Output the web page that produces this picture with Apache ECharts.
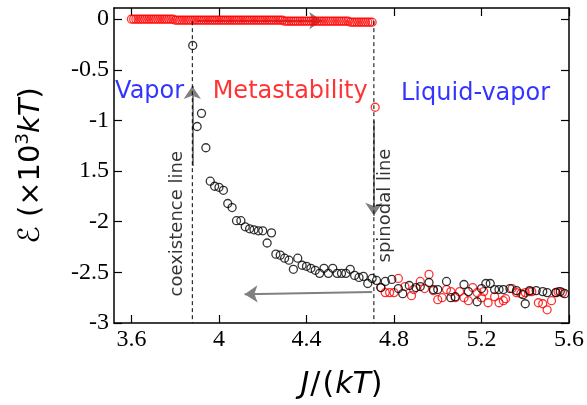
<!DOCTYPE html>
<html>
<head>
<meta charset="utf-8">
<script src="https://cdn.jsdelivr.net/npm/echarts@6/dist/echarts.min.js"></script>
<style>
  html, body { margin: 0; padding: 0; background: #fff; }
  #chart { width: 587px; height: 405px; }
</style>
</head>
<body>
<div id="chart"></div>
<script>
// red branch: metastable state
const jRedFlat = [
  3.60,3.61,3.62,3.63,3.64,3.65,3.66,3.67,3.68,3.69,
  3.70,3.71,3.72,3.73,3.74,3.75,3.76,3.77,3.78,3.79,
  3.80,3.81,3.82,3.83,3.84,3.85,3.86,3.87,3.88,3.89,
  3.90,3.91,3.92,3.93,3.94,3.95,3.96,3.97,3.98,3.99,
  4.00,4.01,4.02,4.03,4.04,4.05,4.06,4.07,4.08,4.09,
  4.10,4.11,4.12,4.13,4.14,4.15,4.16,4.17,4.18,4.19,
  4.20,4.21,4.22,4.23,4.24,4.25,4.26,4.27,4.28,4.29,
  4.30,4.31,4.32,4.33,4.34,4.35,4.36,4.37,4.38,4.39,
  4.40,4.41,4.42,4.43,4.44,4.45,4.46,4.47,4.48,4.49,
  4.50,4.51,4.52,4.53,4.54,4.55,4.56,4.57,4.58,4.59,
  4.60,4.61,4.62,4.63,4.64,4.65,4.66,4.67,4.68,4.69,
  4.70
];
const eRedFlat = [
  0.00,0.00,0.00,0.00,0.00,0.00,0.00,0.00,0.00,0.00,
  0.00,0.00,0.00,0.00,0.00,0.00,0.00,0.00,0.00,0.00,
  -0.01,-0.01,-0.01,-0.01,-0.01,-0.01,-0.01,-0.01,-0.01,-0.01,
  -0.01,-0.01,-0.01,-0.01,-0.01,-0.01,-0.01,-0.01,-0.01,-0.01,
  -0.01,-0.01,-0.01,-0.01,-0.01,-0.01,-0.01,-0.01,-0.01,-0.01,
  -0.01,-0.01,-0.01,-0.01,-0.01,-0.01,-0.01,-0.01,-0.01,-0.01,
  -0.01,-0.01,-0.01,-0.01,-0.01,-0.01,-0.01,-0.01,-0.01,-0.01,
  -0.02,-0.02,-0.02,-0.02,-0.02,-0.02,-0.02,-0.02,-0.02,-0.02,
  -0.02,-0.02,-0.02,-0.02,-0.02,-0.02,-0.02,-0.02,-0.02,-0.02,
  -0.02,-0.02,-0.02,-0.02,-0.02,-0.02,-0.02,-0.02,-0.02,-0.02,
  -0.03,-0.03,-0.03,-0.03,-0.03,-0.03,-0.03,-0.03,-0.03,-0.03,
  -0.03
];
// red branch after the spinodal jump
const jRedTail = [4.714,4.74,4.76,4.78,4.80,4.82,4.85,4.88,4.89,4.92,4.94,4.96,4.98,5.00,5.02,5.04,5.06,5.08,5.10,5.12,5.14,5.16,5.18,5.20,5.21,5.23,5.26,5.28,5.30,5.31,5.34,5.36,5.38,5.40,5.42,5.43,5.46,5.48,5.50,5.52,5.54,5.55,5.57];
const eRedTail = [-0.87,-2.65,-2.70,-2.70,-2.70,-2.56,-2.64,-2.73,-2.67,-2.59,-2.66,-2.52,-2.68,-2.77,-2.75,-2.67,-2.69,-2.75,-2.69,-2.75,-2.78,-2.65,-2.70,-2.75,-2.69,-2.80,-2.74,-2.80,-2.78,-2.76,-2.66,-2.70,-2.71,-2.70,-2.69,-2.69,-2.80,-2.81,-2.87,-2.78,-2.70,-2.69,-2.70];

// black branch: coexistence drop and liquid-vapor tail
const jBlack = [3.88,3.90,3.92,3.94,3.96,3.98,4.00,4.02,4.04,4.06,4.08,4.10,4.12,4.14,4.16,4.18,4.20,4.22,4.24,4.26,4.28,4.30,4.32,4.34,4.36,4.38,4.40,4.42,4.44,4.46,4.48,4.50,4.52,4.54,4.56,4.58,4.60,4.62,4.64,4.66,4.68,4.70,4.72,
  4.74,4.76,4.79,4.82,4.84,4.87,4.90,4.92,4.96,4.98,5.00,5.04,5.06,5.08,5.12,5.14,5.18,5.20,5.22,5.24,5.26,5.28,5.30,5.33,5.36,5.39,5.40,5.42,5.45,5.48,5.50,5.54,5.56,5.58];
const eBlack = [-0.26,-1.06,-0.93,-1.27,-1.60,-1.65,-1.66,-1.69,-1.82,-1.86,-1.99,-1.99,-2.05,-2.07,-2.08,-2.09,-2.09,-2.21,-2.11,-2.32,-2.33,-2.36,-2.38,-2.47,-2.36,-2.43,-2.44,-2.46,-2.48,-2.51,-2.46,-2.51,-2.46,-2.51,-2.51,-2.51,-2.47,-2.53,-2.55,-2.54,-2.61,-2.56,-2.58,
  -2.65,-2.59,-2.57,-2.66,-2.71,-2.63,-2.65,-2.64,-2.60,-2.67,-2.67,-2.59,-2.75,-2.74,-2.62,-2.69,-2.79,-2.66,-2.61,-2.61,-2.67,-2.67,-2.67,-2.66,-2.68,-2.72,-2.81,-2.68,-2.68,-2.69,-2.70,-2.70,-2.69,-2.71];

const xTicks = [3.6, 4, 4.4, 4.8, 5.2, 5.6];
const yTicks = [0, -0.5, -1, -1.5, -2, -2.5, -3];
const jCoexistence = 3.878;
const jSpinodal = 4.708;

const zip = (a, b) => a.map((v, i) => [v, b[i]]);

const ring = (color) => ({
  type: 'scatter',
  symbol: 'circle',
  symbolSize: 8,
  itemStyle: { color: 'rgba(0,0,0,0)', borderColor: color, borderWidth: 1.3 },
  silent: true
});

const dashed = (j) => ({
  type: 'line',
  data: [[j, -0.02], [j, -3]],
  symbol: 'none',
  lineStyle: { color: '#000', width: 1, type: [4, 3] },
  silent: true
});

const serif = 'Liberation Serif';
const sans = 'DejaVu Sans';

const frameAxis = (extra) => Object.assign({
  type: 'value',
  axisLine: { show: true, onZero: false, lineStyle: { color: '#000', width: 1.5 } },
  axisTick: { show: true, inside: true, length: 8, lineStyle: { color: '#000', width: 1.2 } },
  splitLine: { show: false }
}, extra);

const label = (text, color, size, extra) => Object.assign({
  show: true, formatter: text, color: color, fontFamily: sans, fontSize: size
}, extra);

let myChart = echarts.init(document.getElementById('chart'));
let option = {
  animation: false,
  grid: { left: 114, right: 17, top: 8, bottom: 79 },
  xAxis: [
    frameAxis({
      min: 3.52, max: 5.6, position: 'bottom',
      axisTick: { show: true, inside: true, length: 8, customValues: xTicks, lineStyle: { color: '#000', width: 1.2 } },
      axisLabel: { customValues: xTicks, color: '#000', fontFamily: serif, fontSize: 24, margin: 5 },
      name: '{i|J}{p|/}{p|(}{i|kT}{n|)}',
      nameLocation: 'middle',
      nameGap: 47,
      nameTextStyle: {
        fontFamily: sans, fontSize: 30, color: '#000',
        rich: {
          i: { fontFamily: sans, fontSize: 30, fontStyle: 'italic', color: '#000' },
          n: { fontFamily: sans, fontSize: 30, color: '#000' },
          p: { fontFamily: sans, fontSize: 30, color: '#000', padding: [0, 1, 0, 1] }
        }
      }
    }),
    frameAxis({
      min: 3.52, max: 5.6, position: 'top',
      axisTick: { show: true, inside: true, length: 8, customValues: xTicks, lineStyle: { color: '#000', width: 1.2 } },
      axisLabel: { show: false }
    })
  ],
  yAxis: [
    frameAxis({
      min: -3, max: 0.11, position: 'left',
      axisTick: { show: true, inside: true, length: 8, customValues: yTicks, lineStyle: { color: '#000', width: 1.2 } },
      axisLabel: {
        customValues: yTicks, color: '#000', fontFamily: serif, fontSize: 24, margin: 5,
        formatter: (v) => (v === -1.5 ? '1.5' : String(v))
      },
      name: '{n|ℰ (×10}{s|3}{i|kT}{n|)}',
      nameLocation: 'middle',
      nameGap: 66,
      nameTextStyle: {
        fontFamily: sans, fontSize: 29, color: '#000',
        rich: {
          n: { fontFamily: sans, fontSize: 29, color: '#000', lineHeight: 34 },
          i: { fontFamily: sans, fontSize: 29, fontStyle: 'italic', color: '#000', lineHeight: 34 },
          s: { fontFamily: sans, fontSize: 18, color: '#000', verticalAlign: 'top', lineHeight: 34 }
        }
      }
    }),
    frameAxis({
      min: -3, max: 0.11, position: 'right',
      axisTick: { show: true, inside: true, length: 8, customValues: yTicks, lineStyle: { color: '#000', width: 1.2 } },
      axisLabel: { show: false }
    })
  ],
  series: [
    Object.assign(ring('#ff0000'), { data: zip(jRedFlat, eRedFlat) }),
    Object.assign(ring('#ff0000'), { data: zip(jRedTail, eRedTail) }),
    Object.assign(ring('#000000'), { data: zip(jBlack, eBlack) }),
    dashed(jCoexistence),
    dashed(jSpinodal),
    {
      type: 'lines',
      coordinateSystem: 'cartesian2d',
      symbol: ['none', 'arrow'],
      symbolSize: 13,
      lineStyle: { color: '#808080', width: 2, opacity: 1 },
      silent: true,
      data: [
        { coords: [[3.90, -0.015], [4.472, -0.015]] },
        { coords: [[jCoexistence, -1.45], [jCoexistence, -0.66]] },
        { coords: [[jSpinodal, -1.0], [jSpinodal, -1.94]] },
        { coords: [[4.70, -2.695], [4.117, -2.715]] }
      ]
    },
    {
      type: 'scatter',
      symbolSize: 0,
      silent: true,
      data: [
        { value: [3.525, -0.72], label: label('Vapor', '#0000ff', 24, { position: 'right', distance: 0 }) },
        { value: [3.971, -0.72], label: label('Metastability', '#ff0000', 24, { position: 'right', distance: 0 }) },
        { value: [4.832, -0.74], label: label('Liquid-vapor', '#0000ff', 24, { position: 'right', distance: 0 }) },
        { value: [3.811, -2.02], label: label('coexistence line', '#000', 18, { position: 'inside', rotate: 90 }) },
        { value: [4.760, -1.84], label: label('spinodal line', '#000', 18, { position: 'inside', rotate: 90 }) }
      ]
    }
  ]
};
myChart.setOption(option);
window.onresize = myChart.resize;
</script>
</body>
</html>
